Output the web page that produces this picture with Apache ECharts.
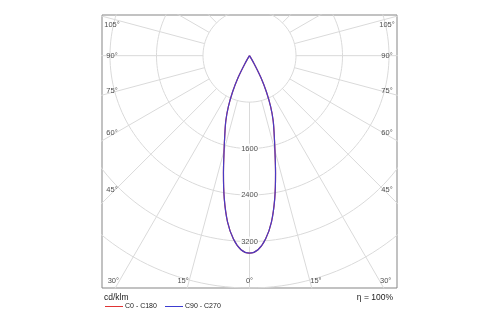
<!DOCTYPE html>
<html>
<head>
<meta charset="utf-8">
<script src="https://cdn.jsdelivr.net/npm/echarts@6/dist/echarts.min.js"></script>
<style>
  html, body { margin: 0; padding: 0; background: #fff; }
  #chart { width: 500px; height: 325px; }
</style>
</head>
<body>
<div id="chart"></div>
<script>
// Luminous intensity (cd/klm) against gamma angle, one half-plane each.
const gammaAngles = [0, 2.5, 5, 7.5, 10, 12.5, 15, 17.5, 20, 22.5, 25, 27.5, 30, 32.5];
const c0c180 =  [3400, 3345, 3170, 2890, 2500, 2070, 1690, 1410, 1190, 950, 690, 420, 150, 0];
const c90c270 = [3400, 3345, 3170, 2890, 2500, 2070, 1690, 1410, 1190, 950, 690, 420, 150, 0];

// Polar grid: intensity rings, labelled rings, spoke spacing.
const ringValues = [800, 1600, 2400, 3200, 4000, 4800];
const ringLabels = [1600, 2400, 3200];
const spokeStep = 15;

// Angle tick labels along the frame.
const sideAngleLabels = [105, 90, 75, 60, 45];
const bottomAngleLabels = [30, 15, 0];

const seriesNames = ['C0 - C180', 'C90 - C270'];
const seriesColors = ['#e03434', '#3c3cd0'];
const efficiency = 'η = 100%';
const unitText = 'cd/klm';

// Visible extent of the diagram in cd/klm (equal scale on both axes).
const X_HALF = 2537.5, Y_TOP = 700, Y_BOTTOM = -4000;
const GRID = { left: 102, top: 15, width: 295, height: 273 };
const UPX = (2 * X_HALF) / GRID.width;   // intensity units per pixel

const rad = d => d * Math.PI / 180;
// gamma measured from straight down; positive gamma to the right
const toXY = (gamma, value) => [value * Math.sin(rad(gamma)), -value * Math.cos(rad(gamma))];

function curvePoints(values) {
  const pts = [];
  for (let i = gammaAngles.length - 1; i >= 0; i--) pts.push(toXY(-gammaAngles[i], values[i]));
  for (let i = 1; i < gammaAngles.length; i++) pts.push(toXY(gammaAngles[i], values[i]));
  return pts;
}

const gridLine = { color: '#dadada', width: 1 };
const series = [];

ringValues.forEach(v => {
  const pts = [];
  for (let a = 0; a <= 360; a += 2) pts.push(toXY(a, v));
  series.push({ type: 'line', data: pts, showSymbol: false, silent: true, z: 1,
    lineStyle: gridLine, animation: false });
});

for (let a = 0; a < 360; a += spokeStep) {
  series.push({ type: 'line', data: [toXY(a, ringValues[0]), toXY(a, 9000)],
    showSymbol: false, silent: true, z: 1, lineStyle: gridLine, animation: false });
}

series.push({
  type: 'scatter', silent: true, z: 3, symbolSize: 0, animation: false,
  data: ringLabels.map(v => [0, -v, String(v)]),
  label: { show: true, position: 'inside', formatter: p => p.value[2],
    fontFamily: 'Liberation Sans', fontSize: 7.5, color: '#222',
    backgroundColor: '#fff', padding: [1, 1] }
});

// Angle labels: placed where each spoke meets the frame, inset a little.
const angleLabelData = [];
const sideX = X_HALF - 10 * UPX;
const topLimit = Y_TOP - 10 * UPX;
sideAngleLabels.forEach(a => {
  const lift = 3 * Math.abs(Math.cos(rad(a))) / Math.cos(rad(45));
  let y = -sideX / Math.tan(rad(a)) + lift * UPX;
  if (a === 90) y = 0;
  y = Math.min(y, topLimit);
  angleLabelData.push([-sideX, y, a + '°']);
  angleLabelData.push([sideX, y, a + '°']);
});
const bottomY = Y_BOTTOM + 7 * UPX;
bottomAngleLabels.forEach(a => {
  const x = a === 0 ? 0 : (-bottomY) * Math.tan(rad(a)) + 6 * UPX;
  angleLabelData.push([-x, bottomY, a + '°']);
  if (a !== 0) angleLabelData.push([x, bottomY, a + '°']);
});
series.push({
  type: 'scatter', silent: true, z: 3, symbolSize: 0, animation: false, clip: false,
  data: angleLabelData,
  label: { show: true, position: 'inside', formatter: p => p.value[2],
    fontFamily: 'Liberation Sans', fontSize: 7.5, color: '#222' }
});

series.push({
  name: seriesNames[0], type: 'line', data: curvePoints(c0c180), smooth: 0.3,
  symbol: 'none', z: 5, animation: false,
  lineStyle: { color: seriesColors[0], width: 1.2 }
});
series.push({
  name: seriesNames[1], type: 'line', data: curvePoints(c90c270), smooth: 0.3,
  symbol: 'none', z: 6, animation: false,
  lineStyle: { color: seriesColors[1], width: 1.2, opacity: 0.93 }
});

// Key below the frame: a short stroke and the series name for each curve.
const keyFont = { fontFamily: 'Liberation Sans', fontSize: 7, fill: '#222' };
const keyItems = [];
const keyStarts = [105, 165];
seriesNames.forEach((name, i) => {
  const x0 = keyStarts[i];
  keyItems.push({ type: 'line', silent: true,
    shape: { x1: x0, y1: 306.5, x2: x0 + 18, y2: 306.5 },
    style: { stroke: seriesColors[i], lineWidth: 1 } });
  keyItems.push({ type: 'text', silent: true, x: x0 + 20, y: 306.5,
    style: Object.assign({ text: name, verticalAlign: 'middle', align: 'left' }, keyFont) });
});

const chart = echarts.init(document.getElementById('chart'), null, { renderer: 'canvas' });
chart.setOption({
  animation: false,
  backgroundColor: '#fff',
  title: [
    { text: unitText, left: 104, top: 293, padding: 0,
      textStyle: { fontFamily: 'Liberation Sans', fontSize: 8.5, fontWeight: 'normal', color: '#222' } },
    { text: efficiency, right: 107, top: 293, padding: 0,
      textStyle: { fontFamily: 'Liberation Sans', fontSize: 8.5, fontWeight: 'normal', color: '#222' } }
  ],
  graphic: keyItems,
  grid: Object.assign({ show: true, borderColor: '#858585', borderWidth: 1 }, GRID),
  xAxis: { type: 'value', min: -X_HALF, max: X_HALF, show: false },
  yAxis: { type: 'value', min: Y_BOTTOM, max: Y_TOP, show: false },
  series: series
});
</script>
</body>
</html>
